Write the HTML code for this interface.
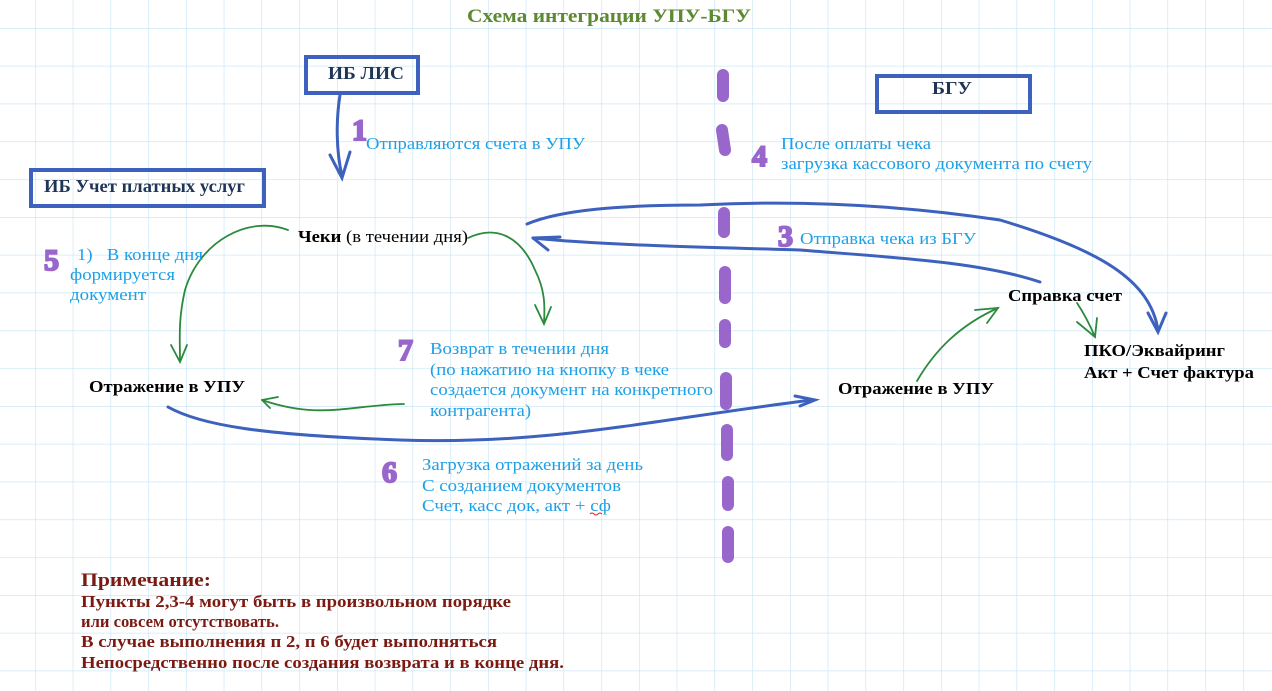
<!DOCTYPE html>
<html><head><meta charset="utf-8"><style>
html,body{margin:0;padding:0;background:#fff}
svg{display:block}
text{font-family:"Liberation Serif",serif}
.b{fill:#000;font-weight:bold;font-size:17px}
.c{fill:#1ea0e6;font-size:17px}
.r{fill:#7b1a12;font-weight:bold;font-size:17px}
</style></head><body>
<svg width="1272" height="691" viewBox="0 0 1272 691" xmlns="http://www.w3.org/2000/svg">
<defs>
<pattern id="g" x="35" y="28" width="37.75" height="37.8" patternUnits="userSpaceOnUse">
<path d="M0 0V37.8M0 0H37.75" stroke="#c4e4f6" stroke-width="1.2" fill="none"/>
</pattern>
</defs>
<rect width="1272" height="691" fill="#fff"/>
<rect width="1272" height="691" fill="url(#g)"/>
<text x="467" y="22" textLength="284" lengthAdjust="spacingAndGlyphs" style="fill:#5b8a30;font-weight:bold;font-size:19px">Схема интеграции УПУ-БГУ</text>

<g fill="none" stroke="#3d62bd" stroke-width="4">
<rect x="306" y="57" width="112" height="36"/>
<rect x="31" y="170" width="233" height="36"/>
<rect x="877" y="76" width="153" height="36"/>
</g>
<text x="328" y="79" textLength="76" lengthAdjust="spacingAndGlyphs" style="fill:#1f3556;font-weight:bold;font-size:18px">ИБ ЛИС</text>
<text x="44" y="192" textLength="201" lengthAdjust="spacingAndGlyphs" style="fill:#1f3556;font-weight:bold;font-size:18px">ИБ Учет платных услуг</text>
<text x="932" y="94" textLength="40" lengthAdjust="spacingAndGlyphs" style="fill:#1f3556;font-weight:bold;font-size:18px">БГУ</text>

<!-- purple dashes -->
<g stroke="#9966cc" stroke-width="12" stroke-linecap="round" fill="none">
<path d="M723 75V96"/><path d="M722 130L725 150"/><path d="M724 213V232"/><path d="M725 272V298"/><path d="M725 325V342"/><path d="M726 378V404"/><path d="M727 430V455"/><path d="M728 482V505"/><path d="M728 532V557"/>
</g>
<!-- blue connectors -->
<g stroke="#3d62bd" stroke-width="3" fill="none" stroke-linecap="round">
<path d="M340 95C336 120 336 150 342 176"/><path d="M330 155L342 178L350 152"/>
<path d="M527 224C560 210 620 205 700 205C800 200 900 205 1000 220C1100 250 1150 280 1158 330"/><path d="M1148 313L1158 332L1166 313"/>
<path d="M533 238L560 237"/><path d="M533 238L548 250"/><path d="M533 238C600 245 700 247 800 250C900 258 980 262 1040 282"/>
<path d="M168 407C200 425 260 435 400 440C550 445 650 420 812 400"/><path d="M795 396L815 400L800 406"/>
</g>
<!-- green connectors -->
<g stroke="#2b8a3c" stroke-width="1.8" fill="none" stroke-linecap="round">
<path d="M288 230C250 215 200 240 185 290C178 320 180 340 180 360"/><path d="M171 345L180 362L187 345"/>
<path d="M468 238C495 225 520 235 535 270C545 290 545 305 544 323"/><path d="M535 305L544 324L551 307"/>
<path d="M404 404C350 405 320 420 262 400"/><path d="M262 400L278 397"/><path d="M262 400L270 408"/>
<path d="M917 381C935 350 960 325 998 308"/><path d="M975 310L998 308L987 323"/>
<path d="M1077 303C1085 315 1090 325 1095 337"/><path d="M1077 322L1095 337L1097 318"/>
</g>
<!-- purple numbers -->
<g fill="#9966cc" stroke="#9966cc" stroke-width="2" style="font-family:'Liberation Sans',sans-serif;font-size:30px;font-weight:bold">
<text x="352" y="140">1</text><text x="752" y="166">4</text><text x="778" y="246">3</text>
<text x="44" y="270">5</text><text x="398" y="360">7</text><text x="382" y="482">6</text>
</g>

<text class="c" x="366" y="149" textLength="219" lengthAdjust="spacingAndGlyphs">Отправляются счета в УПУ</text>
<text class="c" x="781" y="149" textLength="150" lengthAdjust="spacingAndGlyphs">После оплаты чека</text>
<text class="c" x="781" y="169" textLength="311" lengthAdjust="spacingAndGlyphs">загрузка кассового документа по счету</text>
<text class="c" x="800" y="244" textLength="176" lengthAdjust="spacingAndGlyphs">Отправка чека из БГУ</text>
<text x="298" y="242" textLength="170" lengthAdjust="spacingAndGlyphs" style="font-size:17px;fill:#000"><tspan font-weight="bold">Чеки</tspan> (в течении дня)</text>
<text class="c" x="77" y="260" textLength="126" lengthAdjust="spacingAndGlyphs">1)&#160;&#160; В конце дня</text>
<text class="c" x="70" y="280" textLength="105" lengthAdjust="spacingAndGlyphs">формируется</text>
<text class="c" x="70" y="300" textLength="76" lengthAdjust="spacingAndGlyphs">документ</text>
<text class="c" x="430" y="354" textLength="179" lengthAdjust="spacingAndGlyphs">Возврат в течении дня</text>
<text class="c" x="430" y="375" textLength="239" lengthAdjust="spacingAndGlyphs">(по нажатию на кнопку в чеке</text>
<text class="c" x="430" y="395" textLength="283" lengthAdjust="spacingAndGlyphs">создается документ на конкретного</text>
<text class="c" x="430" y="416" textLength="101" lengthAdjust="spacingAndGlyphs">контрагента)</text>
<text class="b" x="89" y="392" textLength="156" lengthAdjust="spacingAndGlyphs">Отражение в УПУ</text>
<text class="b" x="838" y="394" textLength="156" lengthAdjust="spacingAndGlyphs">Отражение в УПУ</text>
<text class="b" x="1008" y="301" textLength="114" lengthAdjust="spacingAndGlyphs">Справка счет</text>
<text class="b" x="1084" y="356" textLength="141" lengthAdjust="spacingAndGlyphs">ПКО/Эквайринг</text>
<text class="b" x="1084" y="378" textLength="170" lengthAdjust="spacingAndGlyphs">Акт + Счет фактура</text>
<text class="c" x="422" y="470" textLength="221" lengthAdjust="spacingAndGlyphs">Загрузка отражений за день</text>
<text class="c" x="422" y="491" textLength="199" lengthAdjust="spacingAndGlyphs">С созданием документов</text>
<text class="c" x="422" y="511" textLength="189" lengthAdjust="spacingAndGlyphs">Счет, касс док, акт + сф</text>
<path d="M590 514q2-2 4 0t4 0 4 0" stroke="#e02020" fill="none" stroke-width="1"/>
<text class="r" x="81" y="586" textLength="130" lengthAdjust="spacingAndGlyphs" style="font-size:19px">Примечание:</text>
<text class="r" x="81" y="607" textLength="430" lengthAdjust="spacingAndGlyphs">Пункты 2,3-4 могут быть в произвольном порядке</text>
<text class="r" x="81" y="627" textLength="198" lengthAdjust="spacingAndGlyphs">или совсем отсутствовать.</text>
<text class="r" x="81" y="647" textLength="416" lengthAdjust="spacingAndGlyphs">В случае выполнения п 2, п 6 будет выполняться</text>
<text class="r" x="81" y="668" textLength="483" lengthAdjust="spacingAndGlyphs">Непосредственно после создания возврата и в конце дня.</text>
</svg>
</body></html>
